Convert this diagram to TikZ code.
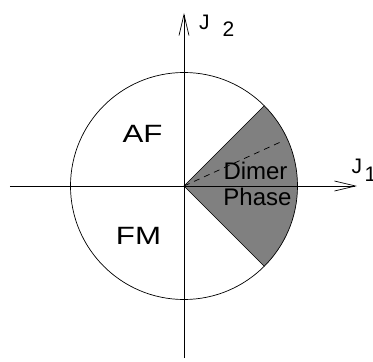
\documentclass[tikz,border=0pt]{standalone}
\usepackage{fontspec}
\setmainfont{Liberation Sans}
\newfontfamily\wideFont[FakeStretch=1.25]{Liberation Sans}
\usetikzlibrary{arrows.meta}

\begin{document}
\begin{tikzpicture}[x=1pt, y=1pt, line width=0.7pt,
    axisarrow/.style={-{Straight Barb[length=21pt, width=10pt, line width=0.7pt]}},
    phaselabel/.style={inner sep=0pt, anchor=base, font=\wideFont\fontsize{25}{28}\selectfont},
    dimerlabel/.style={inner sep=0pt, anchor=base, font=\fontsize{24}{28}\selectfont},
    axislabel/.style={inner sep=0pt, anchor=base west, font=\fontsize{21}{24}\selectfont}]
    \def\radius{113.5} \def\dimerAngle{45} \def\dashAngle{24.5}
    \useasboundingbox (-184,-176) rectangle (189,186);

    \coordinate (O) at (0,0);
    \coordinate (xL) at (-174,0); \coordinate (xR) at (173,0);
    \coordinate (yB) at (0,-172); \coordinate (yT) at (0,173);

    % dimer sector
    \fill[black!50] (O) -- (-\dimerAngle:\radius) arc (-\dimerAngle:\dimerAngle:\radius) -- cycle;
    \draw (-\dimerAngle:\radius) -- (O) -- (\dimerAngle:\radius);
    \draw (O) circle (\radius);
    \draw[dash pattern=on 6pt off 5pt] (O) -- (\dashAngle:110);

    % axes
    \draw[axisarrow] (xL) -- (xR);
    \draw[axisarrow] (yB) -- (yT);

    \node[phaselabel] (af) at (-41.5,43) {AF};
    \node[phaselabel] (fm) at (-45.5,-58.3) {FM};
    \node[dimerlabel] (dimer) at (71.5,7) {Dimer};
    \node[dimerlabel] (phase) at (73.5,-19.7) {Phase};

    \node[axislabel] (j1) at (167.4,12.5) {J\hspace{2.5pt}\raisebox{-8pt}{1}};
    \node[axislabel] (j2) at (14.7,156) {J\hspace{13pt}\raisebox{-7pt}{2}};
\end{tikzpicture}
\end{document}
